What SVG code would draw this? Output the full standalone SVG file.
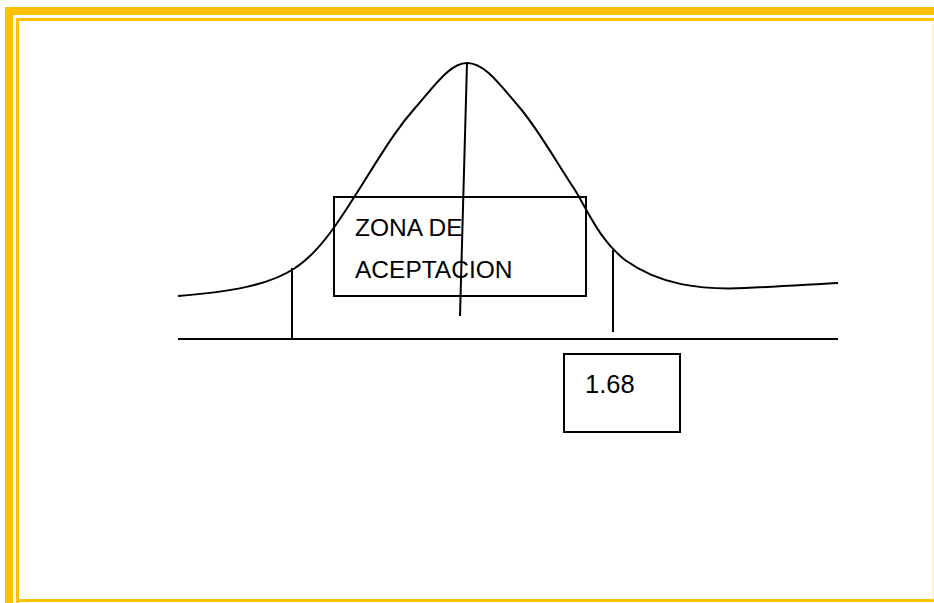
<svg xmlns="http://www.w3.org/2000/svg" width="934" height="603" viewBox="0 0 934 603">
<style>
.ln{stroke:#000;stroke-width:2;fill:none}
.bx{stroke:#000;stroke-width:2;fill:none}
.t{font-family:"Liberation Sans",Arial,sans-serif;font-size:24.5px;fill:#000}
</style>
<rect width="934" height="603" fill="#fff"/>
<g id="border">
<rect x="5" y="7" width="8" height="596" fill="#FFC000"/>
<rect x="5" y="7" width="929" height="8" fill="#FFC000"/>
<path d="M17.5,603 V19.5 H934" stroke="#FFC000" stroke-width="3" fill="none"/>
<path d="M17.5,600.5 H934" stroke="#FFC000" stroke-width="3" fill="none"/>
<path d="M933,20 V600" stroke="#FFE699" stroke-width="1" fill="none"/>
</g>
<g id="connectors">
<path class="ln" d="M178,296 C230,292 270,285 295,268 C320,252 340,220 365,180 C390,140 400,125 415,108 C435,85 450,63 467,63 C485,63 500,85 520,108 C540,132 555,160 575,190 C590,215 600,240 625,260 C660,285 700,290 745,288 C790,286 815,284 838,283"/>
<line class="ln" x1="467" y1="63" x2="460" y2="316"/>
<line class="ln" x1="178" y1="339" x2="838" y2="339"/>
<line class="ln" x1="292" y1="268" x2="292" y2="339"/>
<line class="ln" x1="613" y1="250" x2="613" y2="332"/>
</g>
<g id="zona">
<rect class="bx" x="334" y="197" width="252" height="99"/>
<text class="t" x="355" y="236">ZONA DE</text>
<text class="t" x="355" y="278">ACEPTACION</text>
</g>
<g id="valor">
<rect class="bx" x="564" y="354" width="116" height="78"/>
<text class="t" x="585" y="393" style="font-size:25.5px">1.68</text>
</g>
</svg>
